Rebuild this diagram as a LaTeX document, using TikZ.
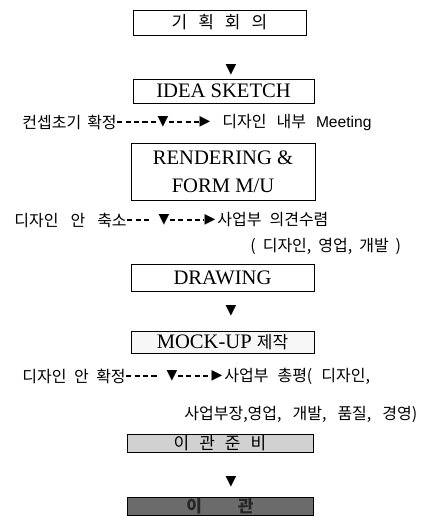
\documentclass[tikz,border=0pt]{standalone}
\usepackage{fontspec}
\setmainfont{Liberation Serif}
\newfontfamily\kor{Noto Sans CJK KR}
\newfontfamily\arial{Liberation Sans}
\newfontfamily\sym{DejaVu Sans}
\newcommand\wordgap[1]{\spaceskip #1\relax}
\usepackage{tikz}
\usetikzlibrary{calc}
\tikzset{stage/.style={draw, line width=0.5pt, inner sep=0pt, align=center, font=\fontsize{10.3}{14}\selectfont}}
\tikzset{note/.style={inner sep=0pt, anchor=west, font=\kor\fontsize{8}{9}\selectfont\wordgap{#1}}}
\tikzset{note/.default=4pt}
\tikzset{tri/.style={inner sep=0pt, font=\sym\fontsize{7}{8}\selectfont}}
\tikzset{lead/.style={line width=0.7pt, dash pattern=on 2.6pt off 1.6pt}}
\tikzset{stagegray/.style={stage, fill=black!18}}
\tikzset{stagedark/.style={stage, fill=black!58}}

\begin{document}
\begin{tikzpicture}[x=0.5pt,y=-0.5pt]
\useasboundingbox (0,0) rectangle (423,525);
\node (plan) at (219.5,22.5)[stage, minimum width=86.5pt, minimum height=12.5pt]{\kor\fontsize{8.5}{9}\selectfont\wordgap{5.5pt}기 획 회 의};
\node (d1) at (231,70)[tri]{▼};
\node (idea) at (223.5,91)[stage, minimum width=90.5pt, minimum height=12pt]{IDEA SKETCH};
% first side note
\node (n1l) at (22,122)[note=3pt]{컨셉초기 확정};
\node (n1d) at (163,122)[tri]{▼};
\node (n1r) at (205,122)[tri]{▶};
\node (n1t) at (222,122)[note=5pt]{디자인 내부 {\arial\fontsize{7.8}{9}\selectfont Meeting}};
\draw[lead] (n1l.east) -- (n1d.west);
\draw[lead] (n1d.east) -- (n1r.west);
\node (rend) at (223,171.5)[stage, minimum width=92pt, minimum height=28.5pt]{RENDERING \&\\FORM M/U};
% second side note
\node (n2l) at (14,220)[note=6pt]{디자인 안 축소};
\node (n2d) at (164,220)[tri]{▼};
\node (n2r) at (210,220)[tri]{▶};
\node (n2t) at (217,220)[note=4pt]{사업부 의견수렴};
\node (n2x) at (250,246)[note=3.5pt]{( 디자인, 영업, 개발 )};
\draw[lead] (n2l.east) -- ($(n2d.west)+(-7,0)$);
\draw[lead] (n2d.east) -- (n2r.west);
\node (draw) at (222.5,277.5)[stage, minimum width=91.5pt, minimum height=13.5pt]{DRAWING};
\node (d2) at (231,311)[tri]{▼};
\node (mock) at (222.5,342)[stage, minimum width=91.5pt, minimum height=11pt, fill=black!3]{MOCK-UP {\kor\fontsize{8.5}{9}\selectfont 제작}};
% third side note
\node (n3l) at (22,376)[note=3.75pt]{디자인 안 확정};
\node (n3d) at (172,376)[tri]{▼};
\node (n3r) at (217,376)[tri]{▶};
\node (n3t) at (224,376)[note=4.5pt]{사업부 총평( 디자인,};
\node (n3x) at (184,414)[note=5.5pt]{사업부장,영업, 개발, 품질, 경영)};
\draw[lead] (n3l.east) -- ($(n3d.west)+(-7,0)$);
\draw[lead] (n3d.east) -- (n3r.west);
\node (prep) at (220,443)[stagegray, minimum width=93pt, minimum height=9pt]{\kor\fontsize{8.5}{9}\selectfont\wordgap{5pt}이 관 준 비};
\node (d3) at (231,482)[tri]{▼};
\node (move) at (220,506)[stagedark, minimum width=93pt, minimum height=9pt]{\kor\fontsize{8.5}{9}\selectfont\bfseries\color{black!85}\wordgap{18pt}이 관};
\end{tikzpicture}
\end{document}
